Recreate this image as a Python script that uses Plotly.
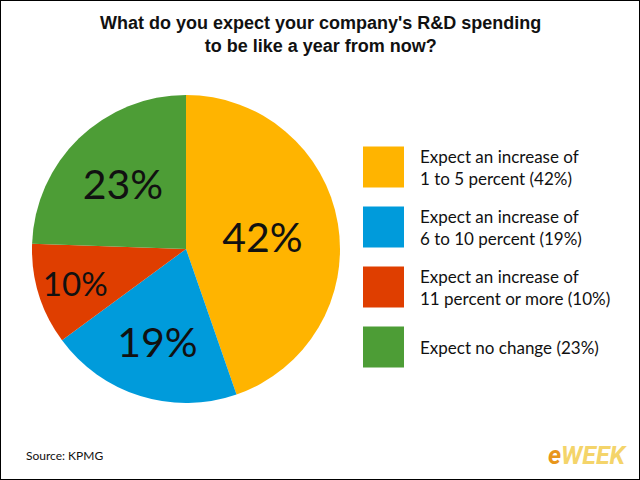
import plotly.graph_objects as go

title_lines = ["What do you expect your company's R&D spending", "to be like a year from now?"]
categories = [
    "Expect an increase of<br>1 to 5 percent (42%)",
    "Expect an increase of<br>6 to 10 percent (19%)",
    "Expect an increase of<br>11 percent or more (10%)",
    "Expect no change (23%)",
]
values = [42, 19, 10, 23]
colors = ["#FFB400", "#009BDB", "#DF3E00", "#4D9D36"]
source = "Source: KPMG"

W, H = 640, 480
fig = go.Figure()

fig.add_trace(go.Pie(
    values=values,
    labels=categories,
    text=[f"{v}%" for v in values],
    textinfo="text",
    textposition="inside",
    insidetextorientation="horizontal",
    textfont=dict(family="Lato", size=41, color="#111111"),
    marker=dict(colors=colors, line=dict(width=0)),
    sort=False,
    direction="clockwise",
    rotation=0,
    hole=0,
    domain=dict(x=[32 / W, 340 / W], y=[(H - 403) / H, (H - 95) / H]),
    showlegend=False,
))

idx = list(range(len(categories)))
fig.add_trace(go.Scatter(
    x=[0] * len(categories),
    y=idx,
    mode="markers",
    marker=dict(symbol="square", size=41, color=colors, line=dict(width=0)),
    xaxis="x", yaxis="y",
    showlegend=False,
    hoverinfo="skip",
))

for i, c in enumerate(categories):
    fig.add_annotation(
        x=34.5, y=i, xref="x", yref="y",
        text=c, showarrow=False, xanchor="left", yanchor="middle", align="left",
        font=dict(family="Lato", size=17, color="#111111"),
    )

fig.add_annotation(
    x=0.5, y=1 - 35 / H, xref="paper", yref="paper",
    text="<b>" + "<br>".join(title_lines) + "</b>", showarrow=False,
    xanchor="center", yanchor="middle", align="center",
    font=dict(family="Liberation Sans", size=18, color="#111111"),
)
fig.add_annotation(
    x=24 / W, y=1 - 455 / H, xref="paper", yref="paper",
    text=source, showarrow=False, xanchor="left", yanchor="middle",
    font=dict(family="Lato", size=12, color="#111111"),
)
fig.add_annotation(
    x=630 / W, y=1 - 455 / H, xref="paper", yref="paper",
    text="<b><i><span style='color:#E8961A'>e</span>WEEK</i></b>", showarrow=False,
    xanchor="right", yanchor="middle",
    font=dict(family="Roboto", size=25, color="#F4D46A"),
)

fig.update_layout(
    width=W, height=H,
    margin=dict(l=0, r=0, t=0, b=0),
    paper_bgcolor="white", plot_bgcolor="rgba(0,0,0,0)",
    xaxis=dict(range=[-383.5, W - 383.5], domain=[0, 1], visible=False, fixedrange=True),
    yaxis=dict(range=[(H - 167) / 60, -167 / 60], domain=[0, 1], visible=False, fixedrange=True),
    shapes=[dict(type="rect", xref="paper", yref="paper", x0=0, y0=0, x1=1, y1=1,
                 line=dict(color="black", width=2), fillcolor="rgba(0,0,0,0)")],
)

fig.write_html("out.html")
